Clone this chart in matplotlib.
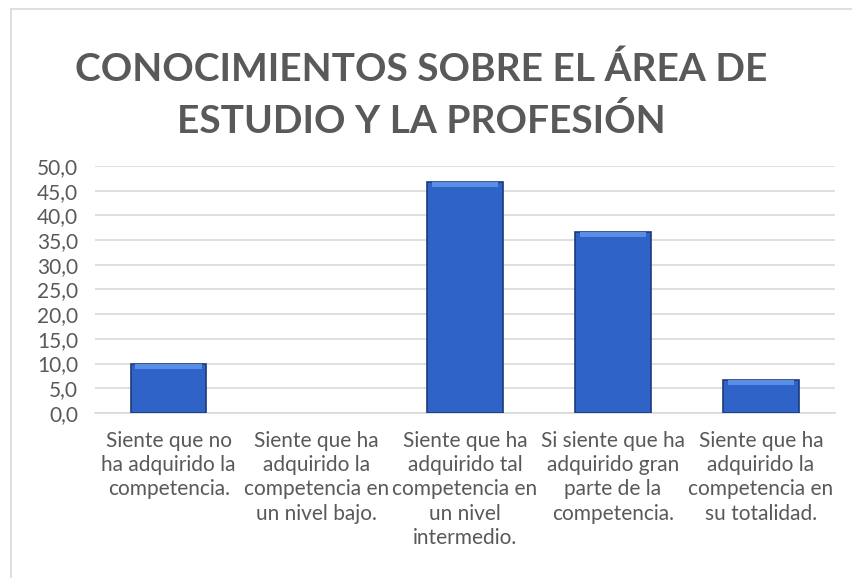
import matplotlib.pyplot as plt
from matplotlib.patches import Rectangle
from matplotlib.ticker import FuncFormatter

# Data
categories = [
    'Siente que no\nha adquirido la\ncompetencia.',
    'Siente que ha\nadquirido la\ncompetencia en\nun nivel bajo.',
    'Siente que ha\nadquirido tal\ncompetencia en\nun nivel\nintermedio.',
    'Si siente que ha\nadquirido gran\nparte de la\ncompetencia.',
    'Siente que ha\nadquirido la\ncompetencia en\nsu totalidad.',
]
values = [10.0, 0.0, 46.7, 36.7, 6.7]
y_ticks = [0, 5, 10, 15, 20, 25, 30, 35, 40, 45, 50]

plt.rcParams['font.family'] = ['Lato', 'DejaVu Sans']
text_gray = '#595959'
grid_gray = '#D9D9D9'

fig = plt.figure(figsize=(8.53, 5.78), dpi=100)
ax = fig.add_axes([0.111, 0.2855, 0.868, 0.4273])

# outer chart frame
fig.patches.append(Rectangle((0.013, -0.05), 1.05, 1.035, transform=fig.transFigure,
                             fill=False, edgecolor=grid_gray, linewidth=1.2))

x = range(len(categories))
edge_w = [1.2 if v > 0 else 0 for v in values]
ax.bar(x, values, width=0.51, color='#2F63C8', edgecolor='#1B3B7C', linewidth=edge_w, zorder=3)
# light bevel on top of each bar
bevel = [min(1.0, v) for v in values]
ax.bar(x, bevel, bottom=[v - b for v, b in zip(values, bevel)], width=0.45,
       color='#5A8DE4', linewidth=0, zorder=4)

ax.set_ylim(0, 50)
ax.set_xlim(-0.5, len(categories) - 0.5)
ax.set_yticks(y_ticks)
ax.yaxis.set_major_formatter(FuncFormatter(lambda v, p: f'{v:.1f}'.replace('.', ',')))
ax.grid(axis='y', color=grid_gray, linewidth=1.2, zorder=0)
ax.set_xticks(list(x))
ax.set_xticklabels(categories, fontsize=15, color=text_gray, linespacing=1.26)
ax.tick_params(axis='y', labelsize=15, labelcolor=text_gray, length=0, pad=12)
ax.tick_params(axis='x', length=0, pad=13)
for s in ['left', 'right', 'top']:
    ax.spines[s].set_visible(False)
ax.spines['bottom'].set_color(grid_gray)
ax.spines['bottom'].set_linewidth(1.2)

fig.text(0.494, 0.835, 'CONOCIMIENTOS SOBRE EL ÁREA DE\nESTUDIO Y LA PROFESIÓN',
         ha='center', va='center', fontsize=28, fontweight='bold', color=text_gray, linespacing=1.53)

fig.savefig('out.png', dpi=100)
